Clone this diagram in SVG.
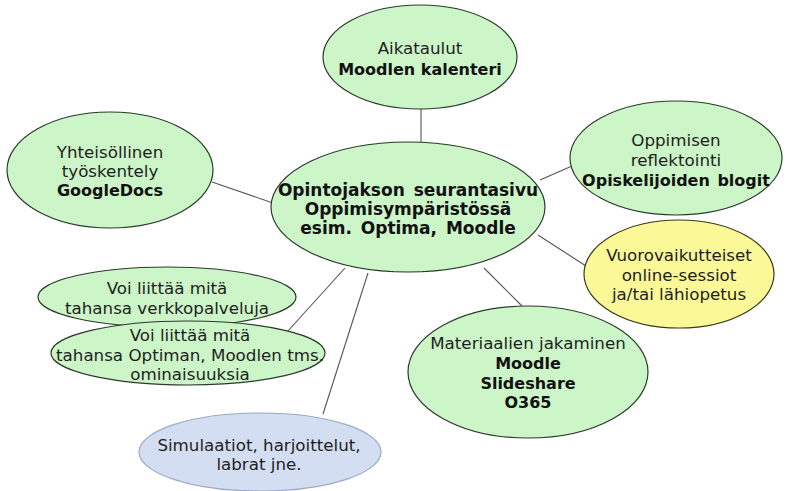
<svg xmlns="http://www.w3.org/2000/svg" width="794" height="491" viewBox="0 0 794 491">
<style>
.g{fill:#ccf5c8;stroke:#2b3a2b;stroke-width:1.2}
.y{fill:#fbf898;stroke:#3a3a1a;stroke-width:1.2}
.b{fill:#d4def2;stroke:#9aa8c4;stroke-width:1.2}
text{font-family:"DejaVu Sans","Verdana",sans-serif;font-size:16.7px;fill:#1e1e1e;text-anchor:middle;dominant-baseline:central}
.bd{font-weight:bold;font-size:16px;fill:#111}
.c{font-weight:bold;font-size:17px;fill:#111;word-spacing:3px}
.e line{stroke:#555;stroke-width:1.1}
</style>
<rect width="794" height="491" fill="#fff"/>
<g class="e" id="connectors">
<line x1="421" y1="109" x2="421" y2="143"/>
<line x1="540" y1="180" x2="572" y2="166"/>
<line x1="538" y1="235" x2="586" y2="266"/>
<line x1="484" y1="268" x2="522" y2="306"/>
<line x1="212" y1="182" x2="273" y2="203"/>
<line x1="345" y1="268" x2="287" y2="332"/>
<line x1="368" y1="273" x2="323" y2="414"/>
</g>
<g id="n-aikataulut">
<ellipse class="g" cx="420" cy="57" rx="97" ry="52"/>
<text x="420" y="48">Aikataulut</text>
<text class="bd" x="420" y="69">Moodlen kalenteri</text>
</g>
<g id="n-center">
<ellipse class="g" cx="408" cy="207" rx="137" ry="65"/>
<text class="c" x="408" y="190">Opintojakson seurantasivu</text>
<text class="c" x="408" y="209">Oppimisympäristössä</text>
<text class="c" x="408" y="228">esim. Optima, Moodle</text>
</g>
<g id="n-reflektointi">
<ellipse class="g" cx="676" cy="158" rx="106" ry="57"/>
<text x="676" y="140">Oppimisen</text>
<text x="676" y="160">reflektointi</text>
<text class="bd" x="676" y="180" style="word-spacing:2px">Opiskelijoiden blogit</text>
</g>
<g id="n-vuorovaikutteiset">
<ellipse class="y" cx="679" cy="274" rx="95" ry="54"/>
<text x="679" y="255">Vuorovaikutteiset</text>
<text x="679" y="275">online-sessiot</text>
<text x="679" y="294">ja/tai lähiopetus</text>
</g>
<g id="n-materiaalien">
<ellipse class="g" cx="528" cy="372" rx="120" ry="66"/>
<text x="528" y="343">Materiaalien jakaminen</text>
<text class="bd" x="528" y="363">Moodle</text>
<text class="bd" x="528" y="383">Slideshare</text>
<text class="bd" x="528" y="402">O365</text>
</g>
<g id="n-googledocs">
<ellipse class="g" cx="110" cy="170" rx="103" ry="58"/>
<text x="110" y="152">Yhteisöllinen</text>
<text x="110" y="171">työskentely</text>
<text class="bd" x="110" y="190">GoogleDocs</text>
</g>
<g id="n-verkkopalveluja">
<ellipse class="g" cx="167" cy="297" rx="129" ry="30"/>
<text x="167" y="288">Voi liittää mitä</text>
<text x="167" y="308">tahansa verkkopalveluja</text>
</g>
<g id="n-ominaisuuksia">
<ellipse class="g" cx="188" cy="353" rx="137" ry="32"/>
<text x="190" y="335">Voi liittää mitä</text>
<text x="190" y="355">tahansa Optiman, Moodlen tms.</text>
<text x="190" y="374">ominaisuuksia</text>
</g>
<g id="n-simulaatiot">
<ellipse class="b" cx="260" cy="452" rx="121" ry="39"/>
<text x="259" y="445">Simulaatiot, harjoittelut,</text>
<text x="259" y="464">labrat jne.</text>
</g>
</svg>
